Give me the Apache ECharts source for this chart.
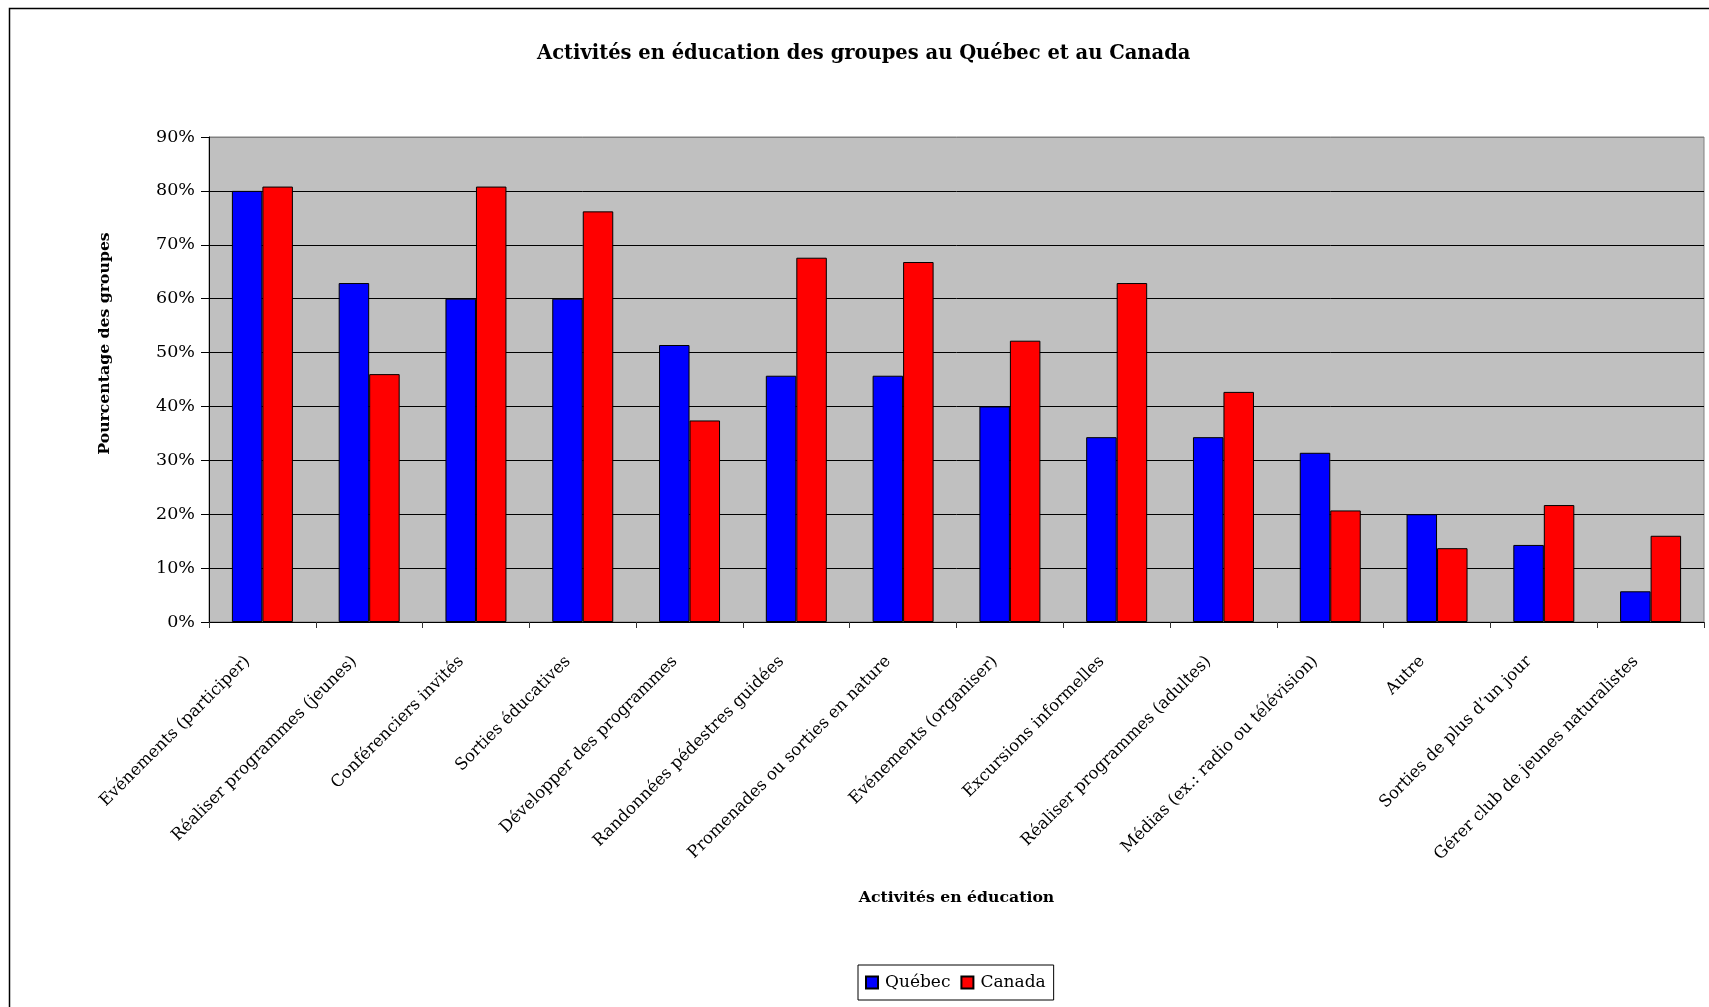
<!DOCTYPE html>
<html>
<head>
<meta charset="utf-8">
<script src="https://cdn.jsdelivr.net/npm/echarts@6/dist/echarts.min.js"></script>
<style>
html,body{margin:0;padding:0;background:#fff;}
#chart{width:1709px;height:1007px;}
</style>
</head>
<body>
<div id="chart"></div>
<script>
const categories = [
  "Evénements (participer)",
  "Réaliser programmes (jeunes)",
  "Conférenciers invités",
  "Sorties éducatives",
  "Développer des programmes",
  "Randonnées pédestres guidées",
  "Promenades ou sorties en nature",
  "Evénements (organiser)",
  "Excursions informelles",
  "Réaliser programmes (adultes)",
  "Médias (ex.: radio ou télévision)",
  "Autre",
  "Sorties de plus d’un jour",
  "Gérer club de jeunes naturalistes"
];
const quebec = [80, 62.9, 60, 60, 51.4, 45.7, 45.7, 40, 34.3, 34.3, 31.4, 20, 14.3, 5.7];
const canada = [80.8, 46.0, 80.8, 76.2, 37.4, 67.6, 66.8, 52.2, 62.9, 42.7, 20.7, 13.7, 21.7, 16.0];
const seriesNames = ["Québec", "Canada"];
const chartTitle = "Activités en éducation des groupes au Québec et au Canada";
const xAxisTitle = "Activités en éducation";
const yAxisTitle = "Pourcentage des groupes";

const FONT = "DejaVu Serif";
const chart = echarts.init(document.getElementById('chart'), null, {renderer: 'canvas'});
const option = {
  backgroundColor: '#ffffff',
  animation: false,
  graphic: [{
    type: 'rect', left: 7, top: 6, silent: true, z: -10,
    shape: {width: 1730, height: 1030},
    style: {fill: 'none', stroke: '#000', lineWidth: 1.5}
  }],
  title: {
    text: chartTitle,
    left: 532, top: 39,
    padding: 5,
    textStyle: {fontFamily: FONT, fontWeight: 'bold', fontSize: 19.5, color: '#000'}
  },
  legend: {
    data: seriesNames,
    left: 858, top: 965,
    orient: 'horizontal',
    itemWidth: 12, itemHeight: 12, itemGap: 10,
    padding: [9, 8, 9, 7],
    borderColor: '#000', borderWidth: 1,
    icon: 'rect',
    textStyle: {fontFamily: FONT, fontSize: 17, color: '#000', padding: [0, 0, 0, 2]}
  },
  grid: {
    left: 209, top: 137, right: 5, bottom: 385,
    show: true, backgroundColor: '#C0C0C0', borderColor: '#808080', borderWidth: 1,
    containLabel: false
  },
  xAxis: {
    type: 'category',
    data: categories,
    name: xAxisTitle,
    nameLocation: 'middle',
    nameGap: 268,
    nameTextStyle: {fontFamily: FONT, fontWeight: 'bold', fontSize: 15.7, color: '#000'},
    axisLine: {show: true, lineStyle: {color: '#000', width: 1}},
    axisTick: {show: true, length: 6, lineStyle: {color: '#333'}},
    axisLabel: {
      interval: 0, rotate: 45, margin: 22,
      padding: [0, 21, 0, 0],
      fontFamily: FONT, fontSize: 16.6, color: '#000'
    },
    splitLine: {show: false}
  },
  yAxis: {
    type: 'value',
    min: 0, max: 90, interval: 10,
    name: yAxisTitle,
    nameLocation: 'middle',
    nameGap: 96,
    nameRotate: 90,
    nameTextStyle: {fontFamily: FONT, fontWeight: 'bold', fontSize: 15.7, color: '#000', padding: [0, 0, 0, 72]},
    axisLine: {show: true, lineStyle: {color: '#000', width: 1}},
    axisTick: {show: true, inside: false, length: 8, lineStyle: {color: '#000'}},
    axisLabel: {margin: 14, formatter: '{value}%', fontFamily: FONT, fontSize: 17.5, color: '#000'},
    splitLine: {show: true, lineStyle: {color: ['#000','#000','#000','#000','#000','#000','#000','#000','#000','#808080'], width: 1}}
  },
  series: [
    {
      name: seriesNames[0], type: 'bar', data: quebec,
      barWidth: 30.5, barGap: '0%',
      itemStyle: {color: '#0000FF', borderColor: '#000', borderWidth: 1}
    },
    {
      name: seriesNames[1], type: 'bar', data: canada,
      barWidth: 30.5, barGap: '0%',
      itemStyle: {color: '#FF0000', borderColor: '#000', borderWidth: 1}
    }
  ]
};
chart.setOption(option);
</script>
</body>
</html>
